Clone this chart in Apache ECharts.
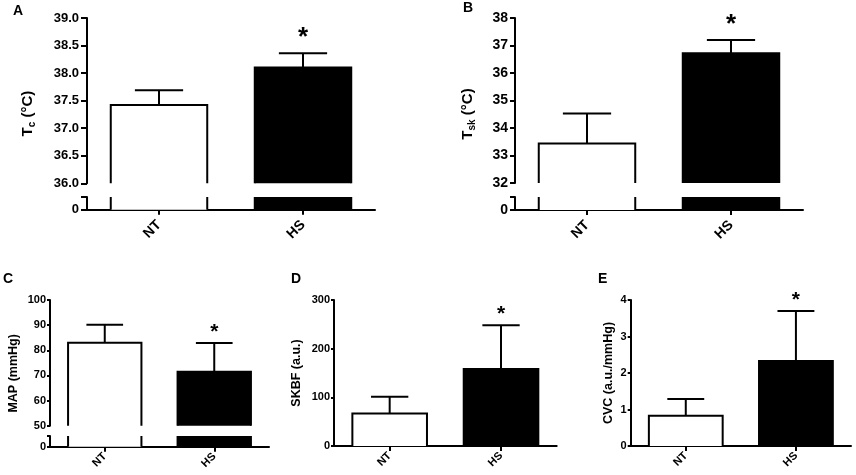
<!DOCTYPE html>
<html>
<head>
<meta charset="utf-8">
<script src="https://cdn.jsdelivr.net/npm/echarts@6/dist/echarts.min.js"></script>
<style>
    html, body { margin: 0; padding: 0; background: #fff; }
    #chart { width: 856px; height: 475px; }
</style>
</head>
<body>
<div id="chart"></div>
<script>
var groups = ['NT', 'HS'];
var significant = [0, 1];

// A: core temperature (C)
var tcMean = [37.42, 38.10];
var tcSem = [0.27, 0.26];
// B: skin temperature (C)
var tskMean = [33.44, 36.72];
var tskSem = [1.09, 0.48];
// C: mean arterial pressure (mmHg)
var mapMean = [83.0, 71.5];
var mapSem = [7.2, 11.4];
// D: skin blood flow (a.u.)
var skbfMean = [67, 158];
var skbfSem = [34, 90];
// E: cutaneous vascular conductance (a.u./mmHg)
var cvcMean = [0.83, 2.33];
var cvcSem = [0.46, 1.37];

var FONT = '"Liberation Sans", Arial, sans-serif';
var BAR_RATIO = 0.67;
var fills = ['#ffffff', '#000000'];

function rows(mean, sem) {
    return groups.map(function (g, i) {
        return [i, mean[i], sem[i], significant[i]];
    });
}

// bar drawn by hand so a bar cut by the axis break keeps an open end
function renderBar(params, api) {
    var idx = api.value(0);
    var top = api.coord([idx, api.value(1)]);
    var w = api.size([1, 0])[0] * BAR_RATIO;
    var cs = params.coordSys;
    var yBottom = cs.y + cs.height;
    var cut = top[1] < cs.y;
    var yTop = cut ? cs.y : top[1];
    var l = top[0] - w / 2, r = top[0] + w / 2;
    var line = {stroke: '#000', lineWidth: 2, fill: null};
    var children = [{
        type: 'rect',
        shape: {x: l, y: yTop, width: w, height: yBottom - yTop},
        style: {fill: fills[idx], stroke: null}
    }];
    if (cut) {
        children.push({type: 'line', shape: {x1: l, y1: yBottom, x2: l, y2: yTop}, style: line});
        children.push({type: 'line', shape: {x1: r, y1: yBottom, x2: r, y2: yTop}, style: line});
    } else {
        children.push({
            type: 'polyline',
            shape: {points: [[l, yBottom], [l, yTop], [r, yTop], [r, yBottom]]},
            style: line
        });
    }
    return {type: 'group', children: children};
}

function makeErr(starSize, starGap) {
    return function (params, api) {
        var idx = api.value(0), m = api.value(1), e = api.value(2);
        var base = api.coord([idx, m]);
        var tip = api.coord([idx, m + e]);
        var half = api.size([1, 0])[0] * BAR_RATIO / 4;
        var st = {stroke: '#000', lineWidth: 2};
        var children = [
            {type: 'line', shape: {x1: base[0], y1: base[1], x2: tip[0], y2: tip[1]}, style: st},
            {type: 'line', shape: {x1: tip[0] - half, y1: tip[1], x2: tip[0] + half, y2: tip[1]}, style: st}
        ];
        if (api.value(3)) {
            children.push({
                type: 'text',
                x: tip[0],
                y: tip[1] - starGap,
                style: {
                    text: '*', fill: '#000', align: 'center', verticalAlign: 'middle',
                    font: 'bold ' + starSize + 'px ' + FONT
                }
            });
        }
        return {type: 'group', children: children};
    };
}

var option = {
    backgroundColor: '#fff',
    animation: false,
    grid: [],
    xAxis: [],
    yAxis: [],
    series: [],
    graphic: []
};

function xAxisFor(gi, p, visible) {
    return {
        type: 'category',
        gridIndex: gi,
        data: groups,
        show: visible,
        axisLine: {show: true, lineStyle: {color: '#000', width: 2}},
        axisTick: {show: true, alignWithLabel: true, length: 5, lineStyle: {color: '#000', width: 2}},
        axisLabel: {
            rotate: 45, margin: p.xMargin, color: '#000', fontWeight: 'bold',
            fontSize: p.xSize, fontFamily: FONT
        },
        splitLine: {show: false}
    };
}

function yAxisBase(gi, p) {
    return {
        type: 'value',
        gridIndex: gi,
        axisLine: {show: true, lineStyle: {color: '#000', width: 2}},
        axisTick: {show: true, inside: false, length: p.tickLen, lineStyle: {color: '#000', width: 2}},
        axisLabel: {color: '#000', fontWeight: 'bold', fontSize: p.labelSize, fontFamily: FONT, margin: p.labelMargin},
        splitLine: {show: false}
    };
}

function addPanel(p) {
    var gi = option.grid.length;
    var data = rows(p.mean, p.sem);
    option.grid.push({left: p.left, top: p.top, width: p.width, height: p.height, outerBoundsMode: 'none'});
    option.xAxis.push(xAxisFor(gi, p, !p.brk));

    var y = yAxisBase(gi, p);
    y.min = p.min;
    y.max = p.max;
    y.interval = p.interval;
    if (p.decimals) {
        y.axisLabel.formatter = function (v) { return v.toFixed(p.decimals); };
    }
    y.name = p.name;
    y.nameLocation = 'middle';
    y.nameGap = p.nameGap;
    y.nameRotate = 90;
    y.nameMoveOverlap = false;
    y.nameTextStyle = {
        color: '#000', fontWeight: 'bold', fontSize: p.nameSize, fontFamily: FONT,
        padding: [0, p.nameShift || 0, 0, 0],
        rich: {
            b: {color: '#000', fontWeight: 'bold', fontSize: p.nameSize, fontFamily: FONT, lineHeight: 18},
            s: {color: '#000', fontWeight: 'bold', fontSize: 10, fontFamily: FONT, lineHeight: 10, verticalAlign: 'bottom'}
        }
    };
    option.yAxis.push(y);

    option.series.push({type: 'custom', xAxisIndex: gi, yAxisIndex: gi, data: data, encode: {x: 0, y: 1}, renderItem: renderBar});
    option.series.push({type: 'custom', xAxisIndex: gi, yAxisIndex: gi, data: data, encode: {x: 0, y: 1}, renderItem: makeErr(p.starSize, p.starGap)});

    if (p.brk) {
        var lo = option.grid.length;
        option.grid.push({left: p.left, top: p.brk.top, width: p.width, height: p.brk.height, outerBoundsMode: 'none'});
        option.xAxis.push(xAxisFor(lo, p, true));
        var y2 = yAxisBase(lo, p);
        y2.min = 0;
        y2.max = 1;
        y2.interval = 1;
        y2.axisLabel.formatter = function (v) { return v === 0 ? '0' : ''; };
        option.yAxis.push(y2);
        option.series.push({type: 'custom', xAxisIndex: lo, yAxisIndex: lo, data: data, encode: {x: 0, y: 1}, renderItem: renderBar});
    }

    option.graphic.push({
        type: 'text', left: p.tagX, top: p.tagY,
        style: {text: p.tag, fill: '#000', font: 'bold 14px ' + FONT}
    });
}

addPanel({
    tag: 'A', tagX: 13, tagY: 4,
    left: 87, width: 288, top: 18, height: 165.3, brk: {top: 197, height: 12.7},
    min: 36, max: 39, interval: 0.5, decimals: 1,
    mean: tcMean, sem: tcSem,
    name: '{b|T}{s|c}{b| (°C)}', nameSize: 15, nameGap: 50, nameShift: 26,
    labelSize: 13, labelMargin: 8, tickLen: 6, xSize: 14, xMargin: 13,
    starSize: 26, starGap: 15
});
addPanel({
    tag: 'B', tagX: 463, tagY: 1,
    left: 515, width: 288, top: 18, height: 165, brk: {top: 197, height: 13},
    min: 32, max: 38, interval: 1,
    mean: tskMean, sem: tskSem,
    name: '{b|T}{s|sk}{b| (°C)}', nameSize: 15, nameGap: 38, nameShift: 27,
    labelSize: 14, labelMargin: 7, tickLen: 5, xSize: 14, xMargin: 13,
    starSize: 26, starGap: 15
});
addPanel({
    tag: 'C', tagX: 3, tagY: 272,
    left: 50, width: 219, top: 300, height: 125.7, brk: {top: 436, height: 10.7},
    min: 50, max: 100, interval: 10,
    mean: mapMean, sem: mapSem,
    name: 'MAP (mmHg)', nameSize: 12.5, nameGap: 30, nameShift: 21,
    labelSize: 11, labelMargin: 4, tickLen: 3, xSize: 11, xMargin: 8,
    starSize: 21, starGap: 11
});
addPanel({
    tag: 'D', tagX: 291, tagY: 272,
    left: 334, width: 222.7, top: 300, height: 146,
    min: 0, max: 300, interval: 100,
    mean: skbfMean, sem: skbfSem,
    name: 'SKBF (a.u.)', nameSize: 12.5, nameGap: 31,
    labelSize: 11, labelMargin: 4, tickLen: 3, xSize: 11, xMargin: 8,
    starSize: 21, starGap: 11
});
addPanel({
    tag: 'E', tagX: 598, tagY: 272,
    left: 630.7, width: 220.3, top: 300, height: 146,
    min: 0, max: 4, interval: 1,
    mean: cvcMean, sem: cvcSem,
    name: 'CVC (a.u./mmHg)', nameSize: 12.5, nameGap: 16,
    labelSize: 11, labelMargin: 4, tickLen: 3, xSize: 11, xMargin: 8,
    starSize: 21, starGap: 11
});

var chart = echarts.init(document.getElementById('chart'));
chart.setOption(option);
window.onresize = function () {
    chart.resize();
};
</script>
</body>
</html>
